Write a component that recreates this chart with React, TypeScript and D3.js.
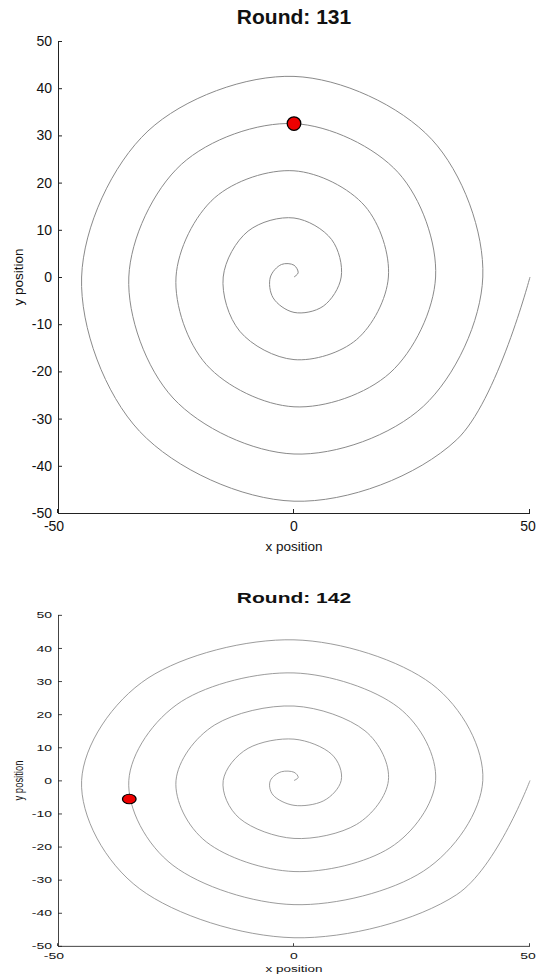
import React from 'react';
import * as d3 from 'd3';

// Spiral path: radius at every 45° (clockwise from +x)
const spiralAngleDeg = [
  0, 45, 90, 135, 180, 225, 270, 315, 360, 405, 450, 495, 540, 585, 630, 675,
  720, 765, 810, 855, 900, 945, 990, 1035, 1080, 1125, 1170, 1215, 1260, 1305,
  1350, 1395, 1440, 1485, 1530, 1575, 1620, 1665, 1710, 1755, 1800,
];
const spiralRadius = [
  50, 48.75, 47.5, 46.25, 45, 43.75, 42.5, 41.25, 40, 38.75, 37.5, 36.25, 35,
  33.75, 32.5, 31.25, 30, 28.75, 27.5, 26.25, 25, 23.75, 22.5, 21.25, 20, 18.75,
  17.5, 16.25, 15, 13.75, 12.5, 11.25, 10, 8.75, 7.5, 6.25, 5, 3.75, 2.5, 1.25, 0,
];

const rounds = [131, 142];
const markerX = [0, -34.9];
const markerY = [32.5, -5.6];
const yTicks = [-50, -40, -30, -20, -10, 0, 10, 20, 30, 40, 50];
const xTicks = [-50, 0, 50];
const xLabel = 'x position';
const yLabel = 'y position';

const FONT = 'Liberation Sans, Arial, Helvetica, sans-serif';

function Panel({ round, mx, my }: { round: number; mx: number; my: number }) {
  const x = d3.scaleLinear().domain([-50, 50]).range([58, 530]);
  const y = d3.scaleLinear().domain([-50, 50]).range([513, 41]);
  const pts: [number, number][] = spiralAngleDeg.map((a, i) => {
    const t = (a * Math.PI) / 180;
    return [spiralRadius[i] * Math.cos(t), -spiralRadius[i] * Math.sin(t)];
  });
  const line = d3
    .line<[number, number]>()
    .x((d) => x(d[0]))
    .y((d) => y(d[1]))
    .curve(d3.curveCatmullRom.alpha(0.5));
  const [x0, x1] = x.range();
  const [y0, y1] = y.range();
  return (
    <g fontFamily={FONT}>
      <text x={(x0 + x1) / 2} y={24} textAnchor="middle" fontSize={21} fontWeight="bold" fill="#111">
        {`Round: ${round}`}
      </text>
      <path d={line(pts) || ''} fill="none" stroke="#8a8a8a" strokeWidth={1} />
      <line x1={x0} x2={x1} y1={y0 + 0.5} y2={y0 + 0.5} stroke="#222" strokeWidth={1} />
      <line x1={x0 + 0.5} x2={x0 + 0.5} y1={y0} y2={y1} stroke="#222" strokeWidth={1} />
      {yTicks.map((t) => (
        <g key={'y' + t}>
          <line x1={x0} x2={x0 + 4} y1={y(t) + 0.5} y2={y(t) + 0.5} stroke="#222" />
          <text x={52} y={y(t)} dy="0.35em" textAnchor="end" fontSize={14} fill="#111">
            {t}
          </text>
        </g>
      ))}
      {xTicks.map((t) => (
        <g key={'x' + t}>
          <line x1={x(t) - 0.5} x2={x(t) - 0.5} y1={y0} y2={y0 - 4} stroke="#222" />
          <text x={x(t) - (t < 0 ? 4 : t > 0 ? 2 : 0)} y={526} dy="0.35em" textAnchor="middle" fontSize={14} fill="#111">
            {t}
          </text>
        </g>
      ))}
      <text x={(x0 + x1) / 2} y={546} dy="0.35em" textAnchor="middle" fontSize={13.5} fill="#111">
        {xLabel}
      </text>
      <text
        transform={`translate(18,${(y0 + y1) / 2}) rotate(-90)`}
        textAnchor="middle"
        dy="0.35em"
        fontSize={13.5}
        fill="#111"
      >
        {yLabel}
      </text>
      <circle cx={x(mx)} cy={y(my)} r={6.8} fill="#ee0000" stroke="#000" strokeWidth={1.3} />
    </g>
  );
}

export default function App() {
  return (
    <svg
      width={536}
      height={978}
      style={{ position: 'absolute', left: 0, top: 0, background: '#fff' }}
    >
      <rect width={536} height={978} fill="#fff" />
      <Panel round={rounds[0]} mx={markerX[0]} my={markerY[0]} />
      <g transform="translate(0,586.25) scale(1,0.7013)">
        <Panel round={rounds[1]} mx={markerX[1]} my={markerY[1]} />
      </g>
    </svg>
  );
}
